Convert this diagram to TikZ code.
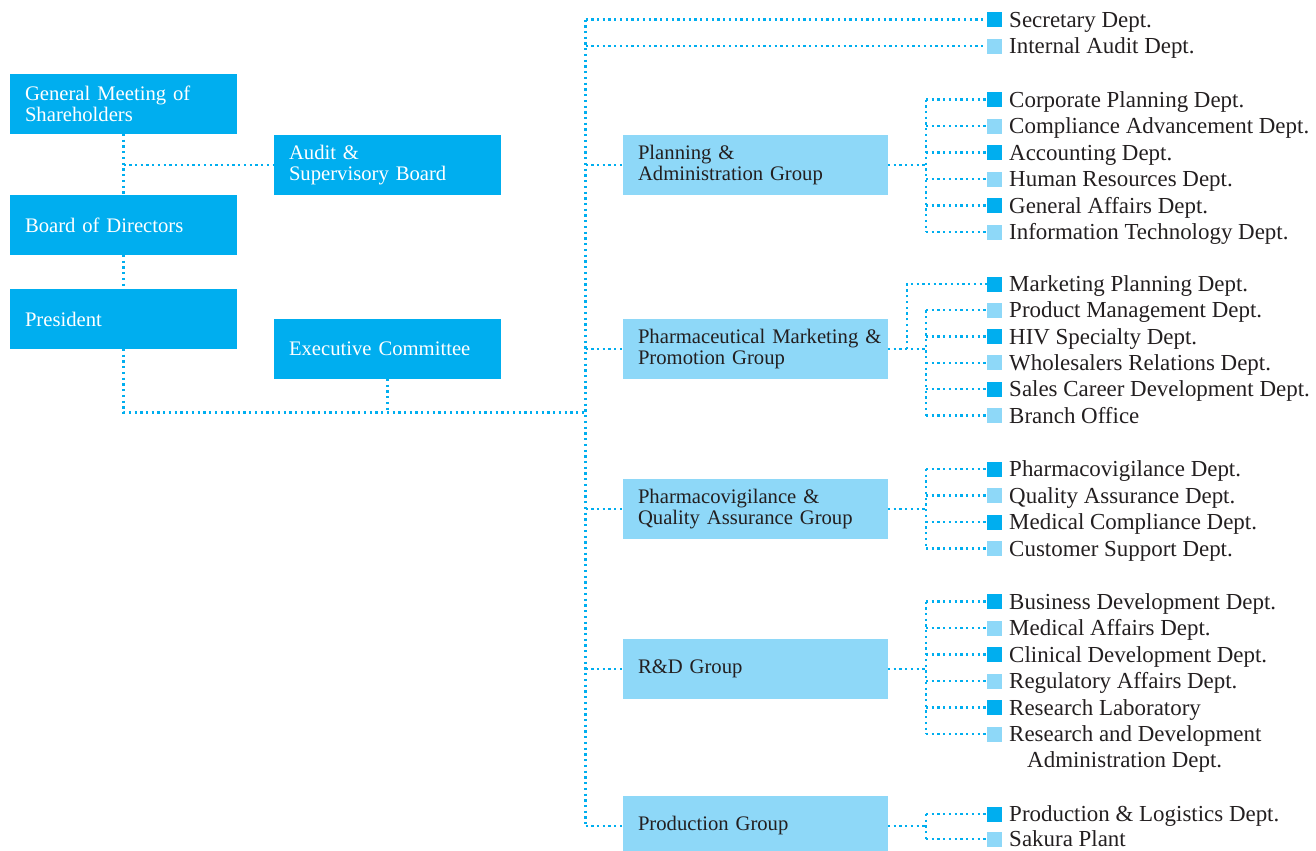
\documentclass[tikz,border=0pt]{standalone}
\usepackage{fontspec}
\setmainfont{Liberation Serif}
\usetikzlibrary{positioning,calc}
\definecolor{cyandark}{HTML}{00AEEF}
\definecolor{cyanlight}{HTML}{8ED8F8}
\definecolor{inkgray}{HTML}{231F20}

\begin{document}
\begin{tikzpicture}[x=0.75pt, y=-0.75pt,
    darkbox/.style={rectangle, fill=cyandark, text=white, anchor=north west, align=left,
      minimum height=45pt, text width=147.75pt, inner xsep=11.25pt, inner ysep=0pt, outer sep=0pt,
      font=\fontsize{15.5pt}{16pt}\selectfont},
    groupbox/.style={darkbox, fill=cyanlight, text=inkgray, text width=176.25pt},
    link/.style={cyandark, line width=1.7pt, dash pattern=on 1.7pt off 2.6pt},
    deptsq/.style={rectangle, minimum size=11.25pt, inner sep=0pt, outer sep=0pt},
    depttext/.style={text=inkgray, anchor=base west, inner sep=0pt,
      font=\fontsize{17.2pt}{20pt}\selectfont}]
    \useasboundingbox (0,0) rectangle (1316,850);

    % Board level
    \node[darkbox] (gms) at (10,74) {General Meeting of\\Shareholders};
    \node[darkbox] (aud) at (274,135) {Audit \&\\Supervisory Board};
    \node[darkbox] (bod) at (10,195) {Board of Directors};
    \node[darkbox] (pres) at (10,289) {President};
    \node[darkbox] (exc) at (274,319) {Executive Committee};

    % Groups
    \node[groupbox] (pag) at (623,135) {Planning \&\\Administration Group};
    \node[groupbox] (mkg) at (623,319) {\mbox{Pharmaceutical Marketing \&}\\Promotion Group};
    \node[groupbox] (pvg) at (623,479) {Pharmacovigilance \&\\Quality Assurance Group};
    \node[groupbox] (rdg) at (623,639) {R\&D Group};
    \node[groupbox] (prg) at (623,796) {Production Group};

    \coordinate (trunk) at (585.5,412.5);
    \coordinate (bus) at (926,0);
    \coordinate (mkbend) at (907,0);

    % Departments
    \foreach \dname [count=\i] in {Secretary Dept., Internal Audit Dept.}{
      \ifodd\i \def\sqcol{cyandark}\else \def\sqcol{cyanlight}\fi
      \node[deptsq, fill=\sqcol] (se\i) at (994,{19.5+26.5*(\i-1)}) {};
      \node[depttext] (se\i-t) at ([xshift=5.6pt]se\i.south east) {\dname};
    }
    \foreach \dname [count=\i] in {Corporate Planning Dept., Compliance Advancement Dept., Accounting Dept.,
        Human Resources Dept., General Affairs Dept., Information Technology Dept.}{
      \ifodd\i \def\sqcol{cyandark}\else \def\sqcol{cyanlight}\fi
      \node[deptsq, fill=\sqcol] (pa\i) at (994,{99.5+26.5*(\i-1)}) {};
      \node[depttext] (pa\i-t) at ([xshift=5.6pt]pa\i.south east) {\dname};
      \draw[link] (pa\i.west -| bus) -- (pa\i.west);
    }
    \foreach \dname [count=\i] in {Marketing Planning Dept., Product Management Dept., HIV Specialty Dept.,
        Wholesalers Relations Dept., Sales Career Development Dept., Branch Office}{
      \ifodd\i \def\sqcol{cyandark}\else \def\sqcol{cyanlight}\fi
      \node[deptsq, fill=\sqcol] (mk\i) at (994,{284+26.3*(\i-1)}) {};
      \node[depttext] (mk\i-t) at ([xshift=5.6pt]mk\i.south east) {\dname};
    }
    \foreach \dname [count=\i] in {Pharmacovigilance Dept., Quality Assurance Dept., Medical Compliance Dept.,
        Customer Support Dept.}{
      \ifodd\i \def\sqcol{cyandark}\else \def\sqcol{cyanlight}\fi
      \node[deptsq, fill=\sqcol] (pv\i) at (994,{469+26.5*(\i-1)}) {};
      \node[depttext] (pv\i-t) at ([xshift=5.6pt]pv\i.south east) {\dname};
      \draw[link] (pv\i.west -| bus) -- (pv\i.west);
    }
    \foreach \dname [count=\i] in {Business Development Dept., Medical Affairs Dept., Clinical Development Dept.,
        Regulatory Affairs Dept., Research Laboratory, Research and Development}{
      \ifodd\i \def\sqcol{cyandark}\else \def\sqcol{cyanlight}\fi
      \node[deptsq, fill=\sqcol] (rd\i) at (994,{601.5+26.5*(\i-1)}) {};
      \node[depttext] (rd\i-t) at ([xshift=5.6pt]rd\i.south east) {\dname};
      \draw[link] (rd\i.west -| bus) -- (rd\i.west);
    }
    \node[depttext] (rd6-u) at ([xshift=13.5pt,yshift=-19.5pt]rd6-t.base west) {Administration Dept.};
    \foreach \dname [count=\i] in {Production \& Logistics Dept., Sakura Plant}{
      \ifodd\i \def\sqcol{cyandark}\else \def\sqcol{cyanlight}\fi
      \node[deptsq, fill=\sqcol] (pr\i) at (994,{814+25*(\i-1)}) {};
      \node[depttext] (pr\i-t) at ([xshift=5.6pt]pr\i.south east) {\dname};
      \draw[link] (pr\i.west -| bus) -- (pr\i.west);
    }

    % Connectors on the left
    \draw[link] (gms.south) -- (bod.north);
    \draw[link] (gms.south |- aud.west) -- (aud.west);
    \draw[link] (bod.south) -- (pres.north);
    \draw[link] (pres.south) |- (trunk);
    \draw[link] (exc.south) -- (exc.south |- trunk);

    % Trunk
    \draw[link] (se1.west -| trunk) -- (prg.west -| trunk);
    \foreach \g in {se1,se2,pag,mkg,pvg,rdg,prg}
      \draw[link] (\g.west -| trunk) -- (\g.west);

    % Buses to departments
    \draw[link] (pag.east) -- (pag.east -| bus);
    \draw[link] (pa1.west -| bus) -- (pa6.west -| bus);
    \draw[link] (mkg.east) -- (mkg.east -| bus);
    \draw[link] (mkg.east -| mkbend) |- (mk1.west);
    \draw[link] (mk2.west -| bus) -- (mk6.west -| bus);
    \foreach \k in {2,...,6}
      \draw[link] (mk\k.west -| bus) -- (mk\k.west);
    \draw[link] (pvg.east) -- (pvg.east -| bus);
    \draw[link] (pv1.west -| bus) -- (pv4.west -| bus);
    \draw[link] (rdg.east) -- (rdg.east -| bus);
    \draw[link] (rd1.west -| bus) -- (rd6.west -| bus);
    \draw[link] (prg.east) -- (prg.east -| bus);
    \draw[link] (pr1.west -| bus) -- (pr2.west -| bus);
\end{tikzpicture}
\end{document}
